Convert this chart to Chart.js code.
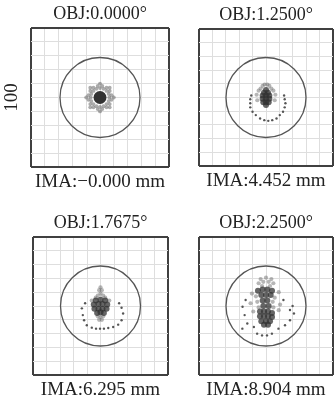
<!DOCTYPE html>
<html>
<head>
<meta charset="utf-8">
<script src="https://cdn.jsdelivr.net/npm/chart.js@4/dist/chart.umd.min.js"></script>
<style>
html,body{margin:0;padding:0;background:#fff;overflow:hidden;width:334px;height:399px;}
canvas{position:absolute;}
</style>
</head>
<body>
<canvas id="c1" style="left:0px;top:0px;width:172px;height:200px" width="172" height="200"></canvas>
<canvas id="c2" style="left:168px;top:1px;width:168px;height:198px" width="168" height="198"></canvas>
<canvas id="c3" style="left:2px;top:209px;width:169px;height:199px" width="169" height="199"></canvas>
<canvas id="c4" style="left:168px;top:209px;width:168px;height:199px" width="168" height="199"></canvas>
<script>
// ---- data ----
const objLabels = ['OBJ:0.0000°', 'OBJ:1.2500°', 'OBJ:1.7675°', 'OBJ:2.2500°'];
const imaLabels = ['IMA:−0.000 mm', 'IMA:4.452 mm', 'IMA:6.295 mm', 'IMA:8.904 mm'];
const scaleBarLabel = '100';
const axisMin = -100, axisMax = 100, gridStep = 20;
const airyCentre = [[0, 0]];

// panel 1 (on axis)
const p1Dark = [[0, 0]];
const p1Light = [
  [13.5,0],[12.5,5.2],[9.5,9.5],[5.2,12.5],[0,13.5],[-5.2,12.5],[-9.5,9.5],[-12.5,5.2],
  [-13.5,0],[-12.5,-5.2],[-9.5,-9.5],[-5.2,-12.5],[0,-13.5],[5.2,-12.5],[9.5,-9.5],[12.5,-5.2],
  [16.7,3.3],[14.1,9.5],[9.5,14.1],[3.3,16.7],[-3.3,16.7],[-9.5,14.1],[-14.1,9.5],[-16.7,3.3],
  [-16.7,-3.3],[-14.1,-9.5],[-9.5,-14.1],[-3.3,-16.7],[3.3,-16.7],[9.5,-14.1],[14.1,-9.5],[16.7,-3.3],
  [20,0],[0,20],[-20,0],[0,-20],[14.1,14.1],[-14.1,14.1],[-14.1,-14.1],[14.1,-14.1]];
const p1Ring = [];

// panel 2
const p2Dark = [[0,11],[-3,7],[3,7],[-5,3],[0,3],[5,3],[-5,-2],[0,-2],[5,-2],[-4,-7],[0,-7],[4,-7],[0,-11]];
const p2Light = [[-5,17],[-2,19],[2,19],[5,17],[-8,13],[8,13],[-14,4],[-13,-4],[14,4],[13,-4],[-11,10],[11,10]];
const p2Ring = [[-23.5,-2.6],[-23.5,-8.5],[-23.5,-14.4],[-20.1,-20.9],[-15.2,-25.7],[-8.8,-30.6],[-2.5,-33.1],[3.4,-34.1],
  [9.3,-33.1],[15.7,-30.6],[20.6,-25.7],[25.4,-20.9],[27.9,-14.4],[29,-8.5],[27.9,-2.6],[-22,3],[27,3]];

// panel 3
const p3Dark = [[-7,8],[0,9],[7,8],[-10,2],[-3,3],[3,3],[10,2],[-9,-4],[-3,-4],[3,-4],[9,-4],[-5,-10],[0,-9],[5,-10]];
const p3Light = [[-4,15],[0,18],[4,15],[-2,23],[2,23],[0,27],[-7,12],[7,12],[-4,-15],[0,-16],[4,-15],[-2,-20],[2,-20],[-13,8],[13,8]];
const p3Ring = [[-24.3,-20.6],[-20.3,-27.9],[-12.9,-31.4],[-6.6,-32.8],[-0.7,-32.8],[5.1,-32.8],[11.5,-31.9],[18.8,-30.4],[26.2,-27],[31.2,-20.6],
  [-27.6,-3.4],[-26.2,-13.2],[-22.8,4],[27.6,4],[31.2,-2.5],[33.5,-10.8]];

// panel 4
const p4Dark = [[-12,22],[-5,24],[2,24],[9,22],[-7,16],[0,16],[7,16],[-5,8],[2,8],[-4,0],[4,0],
  [-9,-8],[-3,-8],[3,-8],[9,-10],[-9,-15],[-3,-15],[3,-15],[9,-16],[-7,-22],[0,-22],[6,-22],[-3,-27],[3,-27]];
const p4Light = [[-8,39],[0,41],[8,39],[-11,33],[-4,35],[4,35],[11,33],[-6,29],[6,29],[-15,14],[13,12],[-13,6],[10,6],[-11,-2],[11,-2],
  [-21,18],[19,20],[-23,4],[21,2],[-19,-8],[19,-6]];
const p4Ring = [[-35,-1],[-30.4,8.8],[-31.9,-13.2],[-27.9,-25.4],[-35.3,-32.8],[-18.1,-30.4],[-13.2,-40.1],[-5.9,-42.6],[1.5,-42.6],[8.8,-40.1],
  [18.6,-32.8],[28.4,-27.9],[35.8,-20.6],[41.7,-10.8],[35.8,-5.9],[39.7,0],[26,8.8]];

// ---- drawing ----
const FONT = "'Liberation Serif', 'DejaVu Serif', serif";
const toXY = arr => arr.map(p => ({x: p[0], y: p[1]}));

function makePanel(id, idx, dark, light, ring, showY) {
  const edge = v => (v === axisMin || v === axisMax);
  const gridOpts = {
    color: c => edge(c.tick.value) ? '#404040' : '#dedede',
    lineWidth: c => edge(c.tick.value) ? 2 : 1,
    drawTicks: false
  };
  new Chart(document.getElementById(id), {
    type: 'scatter',
    data: {
      datasets: [
        {data: toXY(airyCentre), pointRadius: 40, borderWidth: 1.3, borderColor: '#555', backgroundColor: 'rgba(0,0,0,0)', order: 4},
        {data: toXY(ring), pointRadius: 1.2, borderWidth: 0, backgroundColor: '#555', order: 3},
        {data: toXY(light), pointRadius: idx === 0 ? 1.9 : 2.1, borderWidth: 0,
          backgroundColor: idx === 0 ? 'rgba(90,90,90,0.5)' : 'rgba(110,110,110,0.5)', order: 2},
        {data: toXY(dark), pointRadius: idx === 0 ? 6.5 : 3.0, borderWidth: 0, backgroundColor: idx === 0 ? '#333' : 'rgba(50,50,50,0.75)', order: 1}
      ]
    },
    options: {
      responsive: false,
      animation: false,
      events: [],
      layout: {autoPadding: false, padding: {left: 0, right: 3, top: 0, bottom: 0}},
      plugins: {
        legend: {display: false},
        tooltip: {enabled: false},
        title: {
          display: true, text: objLabels[idx], fullSize: false, color: '#222',
          font: {family: FONT, size: 18, weight: 'normal', lineHeight: 1.2},
          padding: {top: 3.2, bottom: 3.2}
        }
      },
      scales: {
        x: {
          type: 'linear', min: axisMin, max: axisMax,
          ticks: {display: false, stepSize: gridStep},
          grid: gridOpts,
          border: {display: false},
          title: {display: true, text: imaLabels[idx], color: '#222',
            font: {family: FONT, size: 19, lineHeight: 1.2}, padding: {top: 3.6, bottom: 6.6}},
          afterFit: s => { s.height = 33; }
        },
        y: {
          type: 'linear', min: axisMin, max: axisMax,
          ticks: {display: false, stepSize: gridStep},
          grid: gridOpts,
          border: {display: false},
          title: {display: showY, text: scaleBarLabel, color: '#222',
            font: {family: FONT, size: 19, lineHeight: 1.2}, padding: {top: 0.6, bottom: 0.6}},
          afterFit: s => { s.width = 31; }
        }
      }
    }
  });
}

makePanel('c1', 0, p1Dark, p1Light, p1Ring, true);
makePanel('c2', 1, p2Dark, p2Light, p2Ring, false);
makePanel('c3', 2, p3Dark, p3Light, p3Ring, false);
makePanel('c4', 3, p4Dark, p4Light, p4Ring, false);
</script>
</body>
</html>
